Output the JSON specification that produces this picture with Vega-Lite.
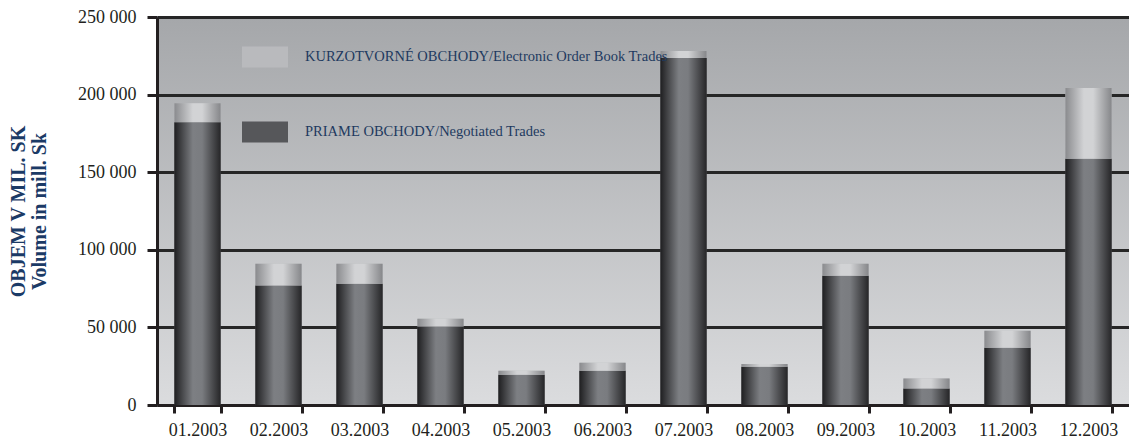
{
  "$schema": "https://vega.github.io/schema/vega-lite/v6.json",
  "width": 972,
  "height": 388,
  "autosize": {"type": "none"},
  "padding": {"left": 157, "top": 17, "right": 0, "bottom": 35},
  "background": "#ffffff",
  "config": {
    "font": "Liberation Serif",
    "locale": {"number": {"decimal": ",", "thousands": " ", "grouping": [3], "currency": ["", ""]}},
    "view": {
      "stroke": null,
      "fill": {"gradient": "linear", "x1": 0, "y1": 0, "x2": 0, "y2": 1,
        "stops": [{"offset": 0, "color": "#a5a7aa"}, {"offset": 1, "color": "#dbdcde"}]}
    }
  },
  "data": {
    "values": [
      {"month": "01.2003", "type": "PRIAME OBCHODY/Negotiated Trades", "value": 182200},
      {"month": "01.2003", "type": "KURZOTVORNÉ OBCHODY/Electronic Order Book Trades", "value": 12300},
      {"month": "02.2003", "type": "PRIAME OBCHODY/Negotiated Trades", "value": 77000},
      {"month": "02.2003", "type": "KURZOTVORNÉ OBCHODY/Electronic Order Book Trades", "value": 14000},
      {"month": "03.2003", "type": "PRIAME OBCHODY/Negotiated Trades", "value": 78200},
      {"month": "03.2003", "type": "KURZOTVORNÉ OBCHODY/Electronic Order Book Trades", "value": 12800},
      {"month": "04.2003", "type": "PRIAME OBCHODY/Negotiated Trades", "value": 50600},
      {"month": "04.2003", "type": "KURZOTVORNÉ OBCHODY/Electronic Order Book Trades", "value": 5000},
      {"month": "05.2003", "type": "PRIAME OBCHODY/Negotiated Trades", "value": 19500},
      {"month": "05.2003", "type": "KURZOTVORNÉ OBCHODY/Electronic Order Book Trades", "value": 2600},
      {"month": "06.2003", "type": "PRIAME OBCHODY/Negotiated Trades", "value": 22100},
      {"month": "06.2003", "type": "KURZOTVORNÉ OBCHODY/Electronic Order Book Trades", "value": 5100},
      {"month": "07.2003", "type": "PRIAME OBCHODY/Negotiated Trades", "value": 223600},
      {"month": "07.2003", "type": "KURZOTVORNÉ OBCHODY/Electronic Order Book Trades", "value": 4500},
      {"month": "08.2003", "type": "PRIAME OBCHODY/Negotiated Trades", "value": 24700},
      {"month": "08.2003", "type": "KURZOTVORNÉ OBCHODY/Electronic Order Book Trades", "value": 1700},
      {"month": "09.2003", "type": "PRIAME OBCHODY/Negotiated Trades", "value": 83200},
      {"month": "09.2003", "type": "KURZOTVORNÉ OBCHODY/Electronic Order Book Trades", "value": 7800},
      {"month": "10.2003", "type": "PRIAME OBCHODY/Negotiated Trades", "value": 10700},
      {"month": "10.2003", "type": "KURZOTVORNÉ OBCHODY/Electronic Order Book Trades", "value": 6300},
      {"month": "11.2003", "type": "PRIAME OBCHODY/Negotiated Trades", "value": 36900},
      {"month": "11.2003", "type": "KURZOTVORNÉ OBCHODY/Electronic Order Book Trades", "value": 10900},
      {"month": "12.2003", "type": "PRIAME OBCHODY/Negotiated Trades", "value": 158600},
      {"month": "12.2003", "type": "KURZOTVORNÉ OBCHODY/Electronic Order Book Trades", "value": 45700}
    ]
  },
  "encoding": {
    "x": {
      "field": "month", "type": "ordinal", "title": null,
      "scale": {"paddingInner": 0.43, "paddingOuter": 0.215},
      "axis": {
        "tickBand": "extent", "labelAngle": 0, "labelFontSize": 18, "labelColor": "#231f20",
        "labelPadding": 8, "tickSize": 8, "tickWidth": 3, "tickColor": "#231f20",
        "domainWidth": 3, "domainColor": "#231f20", "grid": false
      }
    },
    "y": {
      "field": "value", "type": "quantitative", "stack": "zero",
      "scale": {"domain": [0, 250000], "nice": false},
      "title": ["OBJEM V MIL. SK", "Volume in mill. Sk"],
      "axis": {
        "values": [0, 50000, 100000, 150000, 200000, 250000], "format": ",d",
        "labelFontSize": 18, "labelColor": "#231f20", "labelPadding": 11,
        "tickSize": 10, "tickWidth": 3, "tickColor": "#231f20",
        "domainWidth": 3, "domainColor": "#231f20",
        "grid": true, "gridColor": "#262626", "gridWidth": 3, "gridOpacity": 1,
        "titleFont": "Liberation Serif", "titleFontWeight": "bold", "titleFontSize": 20,
        "titleColor": "#1b3a66", "titlePadding": 28, "titleLineHeight": 21
      }
    },
    "order": {"field": "type", "sort": "descending"}
  },
  "layer": [
    {
      "mark": {"type": "bar", "strokeWidth": 0},
      "encoding": {
        "fill": {
          "field": "type", "type": "nominal",
          "scale": {
            "domain": ["KURZOTVORNÉ OBCHODY/Electronic Order Book Trades", "PRIAME OBCHODY/Negotiated Trades"],
            "range": ["#b9babd", "#56575a"]
          },
          "legend": {
            "orient": "none", "legendX": 85, "legendY": 17, "title": null, "padding": 0,
            "symbolType": "M-1,-0.46L1,-0.46L1,0.46L-1,0.46Z", "symbolSize": 2116,
            "symbolStrokeWidth": 0, "symbolOpacity": 1,
            "labelFontSize": 14.5, "labelColor": "#1e3a60", "labelLimit": 600,
            "labelOffset": 17, "rowPadding": 41
          }
        }
      }
    },
    {
      "mark": {"type": "bar", "strokeWidth": 0},
      "encoding": {
        "fill": {
          "condition": {
            "test": "datum.type === 'PRIAME OBCHODY/Negotiated Trades'",
            "value": {"gradient": "linear", "x1": 0, "y1": 0, "x2": 1, "y2": 0,
              "stops": [{"offset": 0, "color": "#1f1f21"}, {"offset": 0.4, "color": "#7d7f83"}, {"offset": 0.6, "color": "#7a7c80"}, {"offset": 1, "color": "#262628"}]}
          },
          "value": {"gradient": "linear", "x1": 0, "y1": 0, "x2": 1, "y2": 0,
            "stops": [{"offset": 0, "color": "#8a8b8e"}, {"offset": 0.4, "color": "#d2d3d5"}, {"offset": 0.6, "color": "#d2d3d5"}, {"offset": 1, "color": "#86878a"}]}
        }
      }
    }
  ]
}
